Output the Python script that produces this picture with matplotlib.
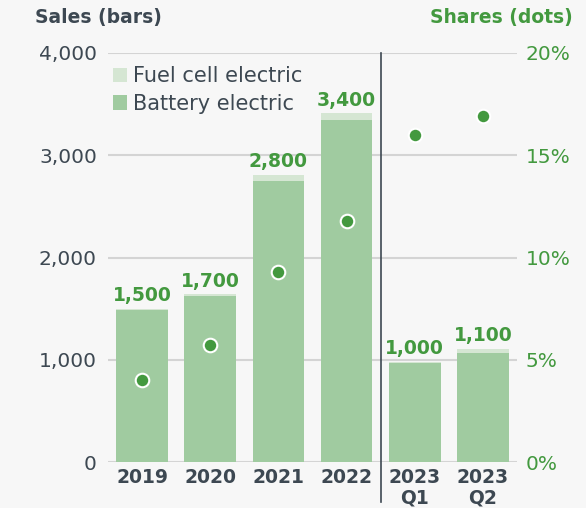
import matplotlib.pyplot as plt
import numpy as np

# ── Data ────────────────────────────────────────────────────────────────
categories = ["2019", "2020", "2021", "2022", "2023\nQ1", "2023\nQ2"]
battery = [1490, 1620, 2750, 3340, 965, 1065]
fuel_cell = [10, 20, 60, 70, 15, 40]
total_labels = ["1,500", "1,700", "2,800", "3,400", "1,000", "1,100"]
shares = [4.0, 5.7, 9.3, 11.8, 16.0, 16.9]

left_ticks = [0, 1000, 2000, 3000, 4000]
left_ticklabels = ["0", "1,000", "2,000", "3,000", "4,000"]
right_ticks = [0, 5, 10, 15, 20]
right_ticklabels = ["0%", "5%", "10%", "15%", "20%"]

# ── Style ───────────────────────────────────────────────────────────────
BG = "#f7f7f7"
C_TEXT = "#3d4852"
C_GREEN = "#43993f"
C_BAT = "#a0cba0"
C_FUEL = "#d5e6d3"
C_GRID = "#d4d4d4"

plt.rcParams["font.family"] = ["DejaVu Sans"]

W, H = 586, 508
fig = plt.figure(figsize=(W / 100, H / 100), dpi=100, facecolor=BG)
ax = fig.add_axes([108 / W, 46 / H, 409 / W, 409 / H])
ax.set_facecolor(BG)
ax2 = ax.twinx()

x = np.arange(len(categories))
totals = np.array(battery) + np.array(fuel_cell)

bars_bat = ax.bar(x, battery, width=0.76, color=C_BAT, zorder=2)
bars_fuel = ax.bar(x, fuel_cell, width=0.76, bottom=battery, color=C_FUEL,
                   zorder=2)

for xi, tot, lab in zip(x, totals, total_labels):
    ax.text(xi, tot + 75, lab, ha="center", va="baseline", fontsize=13.5,
            fontweight="bold", color=C_GREEN, zorder=4)

ax.set_xlim(-0.5, 5.5)
ax.set_ylim(0, 4000)
ax.set_yticks(left_ticks)
ax.set_yticklabels(left_ticklabels, fontsize=14.5, color=C_TEXT)
ax.set_xticks(x)
ax.set_xticklabels(categories, fontsize=13.5, fontweight="bold", color=C_TEXT,
                   linespacing=1.1)
ax.tick_params(axis="both", length=0)
ax.tick_params(axis="y", pad=8)
ax.tick_params(axis="x", pad=4)
for yv in left_ticks:
    ax.axhline(yv, color=C_GRID, linewidth=1.5, zorder=1)
for sp in ax.spines.values():
    sp.set_visible(False)

# separator between years and quarters
ax.plot([3.5, 3.5], [-0.098, 1], transform=ax.get_xaxis_transform(),
        color=C_TEXT, linewidth=1.2, zorder=5, clip_on=False)

# shares on right axis
ax2.scatter(x, shares, s=95, color=C_GREEN, edgecolors="white",
            linewidths=1.5, zorder=6)
ax2.set_ylim(0, 20)
ax2.set_yticks(right_ticks)
ax2.set_yticklabels(right_ticklabels, fontsize=14.5, color=C_GREEN)
ax2.tick_params(axis="y", length=0, pad=6)
for sp in ax2.spines.values():
    sp.set_visible(False)

ax.legend(handles=[bars_fuel, bars_bat],
          labels=["Fuel cell electric", "Battery electric"],
          loc="upper left", bbox_to_anchor=(113 / W, 1 - 66 / H),
          bbox_transform=fig.transFigure, frameon=False,
          fontsize=15, labelcolor=C_TEXT, handlelength=0.68,
          handleheight=0.68, handletextpad=0.3, labelspacing=0.38,
          borderpad=0, borderaxespad=0)

fig.text(35 / W, 1 - 18 / H, "Sales (bars)", ha="left", va="center",
         fontsize=13.5, fontweight="bold", color=C_TEXT)
fig.text(573 / W, 1 - 18 / H, "Shares (dots)", ha="right", va="center",
         fontsize=13.5, fontweight="bold", color=C_GREEN)

fig.savefig("out.png", dpi=100, facecolor=BG)
